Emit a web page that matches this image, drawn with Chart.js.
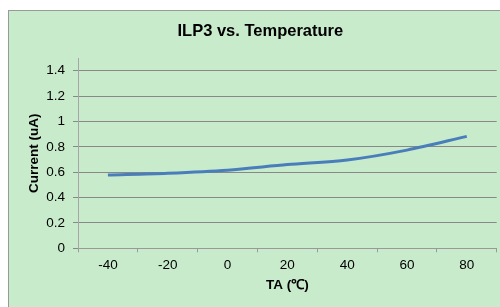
<!DOCTYPE html>
<html>
<head>
<meta charset="utf-8">
<script src="https://cdn.jsdelivr.net/npm/chart.js@4.4.1/dist/chart.umd.min.js"></script>
<style>
  html, body { margin: 0; padding: 0; background: #fff; overflow: hidden; }
  #frame {
    position: absolute; left: 8px; top: 10px; width: 600px; height: 400px;
    background: #c8ebcc; border: 1px solid #999;
  }
  #wrap { position: absolute; left: 0; top: 0; width: 500px; height: 307px; }
</style>
</head>
<body>
<div id="frame"></div>
<div id="wrap"><canvas id="transactionChart" width="500" height="307"></canvas></div>
<script>
// Werte
var temperatures = ['-40', '-20', '0', '20', '40', '60', '80'];
var currentValues = [0.578, 0.592, 0.616, 0.660, 0.696, 0.774, 0.882];
var yTicks = [0, 0.2, 0.4, 0.6, 0.8, 1, 1.2, 1.4];

var chartTitle = 'ILP3 vs. Temperature';
var xTitle = 'TA (\u2103)';
var yTitle = 'Current (uA)';

document.addEventListener('DOMContentLoaded', function() {
    var ctx = document.getElementById('transactionChart').getContext('2d');
    var fontFamily = '"Liberation Sans", Arial, sans-serif';

    new Chart(ctx, {
        type: 'line',
        data: {
            labels: temperatures,
            datasets: [{
                label: 'ILP3',
                data: currentValues,
                borderColor: '#4a7ebb',
                borderWidth: 3,
                pointRadius: 0,
                tension: 0.3,
                fill: false
            }]
        },
        options: {
            responsive: false,
            animation: false,
            // linker Rand verschiebt den Titel etwas nach rechts, wie im Original
            layout: { padding: { left: 24, right: 3.3, top: 0, bottom: 0 } },
            plugins: {
                legend: { display: false },
                tooltip: { enabled: false },
                title: {
                    display: true,
                    text: chartTitle,
                    color: '#000',
                    font: { family: fontFamily, size: 16.5, weight: 'bold' },
                    padding: { top: 21.6, bottom: 16.6 }
                }
            },
            scales: {
                x: {
                    offset: true,
                    grid: {
                        offset: true,
                        drawOnChartArea: false,
                        drawTicks: true,
                        tickLength: 4,
                        color: '#999'
                    },
                    border: { color: '#999', width: 1 },
                    ticks: {
                        color: '#000',
                        padding: 5,
                        font: { family: fontFamily, size: 13.5 }
                    },
                    title: {
                        display: true,
                        text: xTitle,
                        color: '#000',
                        font: { family: fontFamily, size: 13.5, weight: 'bold' },
                        padding: { top: 0, bottom: 13.6 }
                    },
                    afterFit: function(scale) { scale.height = 58.7; }
                },
                y: {
                    min: 0,
                    max: 1.5,
                    afterBuildTicks: function(scale) {
                        scale.ticks = yTicks.map(function(v) { return { value: v }; });
                    },
                    ticks: {
                        color: '#000',
                        padding: 8,
                        font: { family: fontFamily, size: 13.5 },
                        callback: function(value) {
                            return String(+value.toFixed(1));
                        }
                    },
                    grid: {
                        tickLength: 5,
                        color: '#888'
                    },
                    border: { color: '#a6a6a6', width: 1 },
                    title: {
                        display: true,
                        text: yTitle,
                        color: '#000',
                        font: { family: fontFamily, size: 13.5, weight: 'bold' },
                        padding: { top: 2.6, bottom: 0 }
                    },
                    afterFit: function(scale) { scale.width = 54; }
                }
            }
        }
    });
});
</script>
</body>
</html>
